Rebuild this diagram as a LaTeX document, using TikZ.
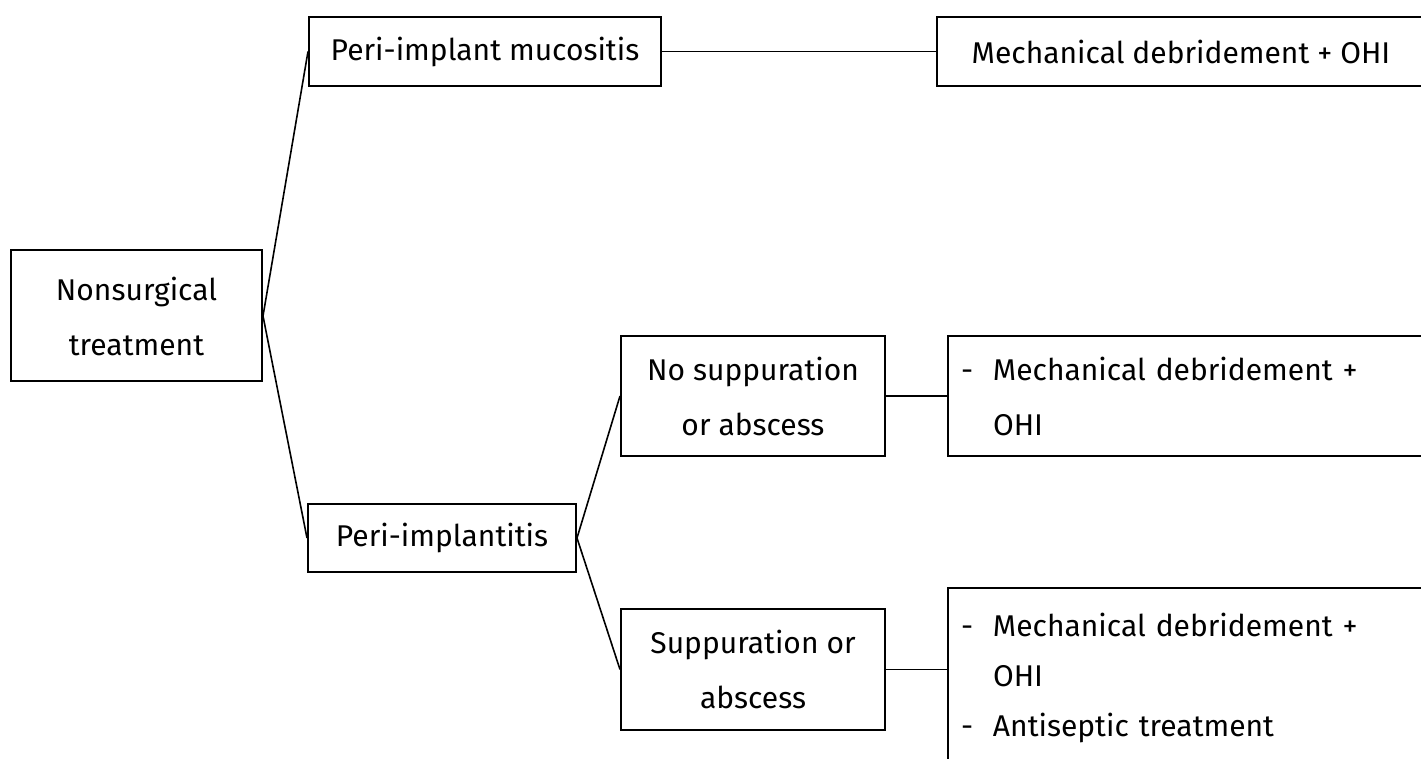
\documentclass[tikz,border=0pt]{standalone}
\usepackage{fontspec}
\setmainfont{Fira Sans}
\usepackage{tikz}
\usetikzlibrary{positioning}
\tikzset{
    link/.style={draw, line width=0.8pt},
    box/.style={draw, rectangle, line width=1pt, fill=white, align=center, inner sep=0pt, font=\fontsize{15}{27.5}\selectfont},
    listbox/.style={box, align=left, anchor=west, inner xsep=6.5pt, text width=237pt}
}

\begin{document}
\begin{tikzpicture}[x=0.5pt, y=-0.5pt]
    \clip (0,0) rectangle (1421,759);
    \fill [white] (0,0) rectangle (1421,759);
    \node (nst) [box, minimum width=125.5pt, minimum height=65.5pt] at (136.5,316) {Nonsurgical\\treatment};
    \node (muc) [box, minimum width=176pt, minimum height=34.5pt] at (485,51.5) {Peri-implant mucositis};
    \node (mdo) [box, minimum width=244pt, minimum height=34.5pt] at (1181,51.5) {Mechanical debridement + OHI};
    \node (pit) [box, minimum width=134pt, minimum height=34pt] at (442,538) {Peri-implantitis};
    \node (nsa) [box, minimum width=132pt, minimum height=60pt] at (753,396) {No suppuration\\or abscess};
    \node (sab) [box, minimum width=132pt, minimum height=60.5pt] at (753,669.5) {Suppuration or\\abscess};
    \node (nsatx) [listbox, minimum height=60pt] at (947,396) {\makebox[16pt][l]{-}Mechanical debridement +\\\hspace*{16pt}OHI};
    \node (sabtx) [listbox, minimum height=90pt, font=\fontsize{15}{25}\selectfont] at (947,678) {\makebox[16pt][l]{-}Mechanical debridement +\\\hspace*{16pt}OHI\\\makebox[16pt][l]{-}Antiseptic treatment};
    \draw [link] (nst.east) -- (muc.west);
    \draw [link] (nst.east) -- (pit.west);
    \draw [link] (muc.east) -- (mdo.west);
    \draw [link] (pit.east) -- (nsa.west);
    \draw [link] (pit.east) -- (sab.west);
    \draw [link] (nsa.east) -- (nsa.east -| nsatx.west);
    \draw [link] (sab.east) -- (sab.east -| sabtx.west);
\end{tikzpicture}
\end{document}
